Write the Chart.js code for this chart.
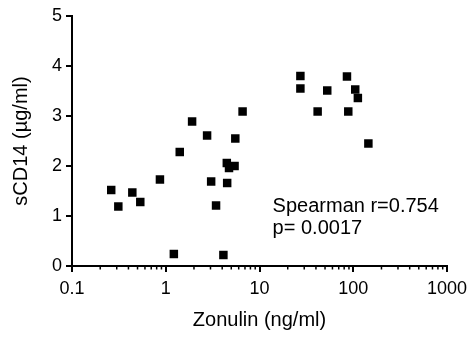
<!DOCTYPE html>
<html>
<head>
<meta charset="utf-8">
<script src="https://cdn.jsdelivr.net/npm/chart.js@4/dist/chart.umd.min.js"></script>
<style>
  html, body { margin: 0; padding: 0; background: #fff; }
  #wrap { width: 468px; height: 338px; position: relative; }
</style>
</head>
<body>
<div id="wrap"><canvas id="c"></canvas></div>
<script>
// ---- Data ----
const zonulin = [0.262, 0.312, 0.44, 0.535, 0.867, 1.22, 1.41, 1.91, 2.76, 3.05, 3.44, 4.12, 4.48, 4.52, 4.73, 5.42, 5.52, 6.6,
                 27.3, 27.3, 41.7, 52.8, 85.7, 88.5, 105, 112, 145];
const sCD14   = [1.52, 1.19, 1.47, 1.28, 1.73, 0.24, 2.28, 2.89, 2.61, 1.69, 1.21, 0.22, 2.06, 1.66, 1.96, 2.00, 2.55, 3.09,
                 3.80, 3.55, 3.09, 3.51, 3.79, 3.09, 3.53, 3.36, 2.45];
const xMajorTicks = [0.1, 1, 10, 100, 1000];
const xTickLabels = ['0.1', '1', '10', '100', '1000'];
const yTicks = [0, 1, 2, 3, 4, 5];
const xTitle = 'Zonulin (ng/ml)';
const yTitle = 'sCD14 (µg/ml)';
const annotationLines = ['Spearman r=0.754', 'p= 0.0017'];
const annotationAnchor = { x: 13.8, y: 1.08 }; // data coords of first baseline start

const FONT = '"Liberation Sans", Arial, Helvetica, sans-serif';
const points = zonulin.map((x, i) => ({ x: x, y: sCD14[i] }));

const tickPlugin = {
  id: 'logTicksAndNote',
  afterDraw(chart) {
    const ctx = chart.ctx;
    const xs = chart.scales.x, ys = chart.scales.y;
    const yAxis = chart.chartArea.bottom;
    ctx.save();
    ctx.strokeStyle = '#000';
    for (let d = 0; d < xMajorTicks.length; d++) {
      const base = xMajorTicks[d];
      const px = Math.round(xs.getPixelForValue(base));
      ctx.lineWidth = 2;
      ctx.beginPath(); ctx.moveTo(px, yAxis); ctx.lineTo(px, yAxis + 6); ctx.stroke();
      if (d < xMajorTicks.length - 1) {
        for (let m = 2; m <= 9; m++) {
          const mx = xs.getPixelForValue(base * m);
          ctx.lineWidth = 1.5;
          ctx.beginPath(); ctx.moveTo(mx, yAxis); ctx.lineTo(mx, yAxis + 3.5); ctx.stroke();
        }
      }
    }
    ctx.fillStyle = '#000';
    ctx.font = '20px ' + FONT;
    ctx.textAlign = 'left';
    ctx.textBaseline = 'alphabetic';
    const ax = xs.getPixelForValue(annotationAnchor.x);
    const ay = ys.getPixelForValue(annotationAnchor.y);
    annotationLines.forEach((t, i) => ctx.fillText(t, ax, ay + i * 21.5));
    ctx.restore();
  }
};

new Chart(document.getElementById('c'), {
  type: 'scatter',
  data: {
    datasets: [{
      data: points,
      pointStyle: 'rect',
      pointRadius: 6,
      pointHoverRadius: 6,
      backgroundColor: '#000',
      borderColor: '#000',
      borderWidth: 0
    }]
  },
  options: {
    responsive: true,
    maintainAspectRatio: false,
    animation: false,
    events: [],
    layout: { padding: { top: 16, right: 21, left: 0, bottom: 0 } },
    plugins: { legend: { display: false }, tooltip: { enabled: false } },
    scales: {
      x: {
        type: 'logarithmic',
        min: 0.1,
        max: 1000,
        afterFit: s => { s.height = 72; s.paddingLeft = 0; s.paddingRight = 0; },
        border: { display: true, color: '#000', width: 2 },
        grid: { display: true, drawOnChartArea: false, drawTicks: true, tickLength: 6, color: 'rgba(0,0,0,0)' },
        ticks: {
          autoSkip: false,
          maxRotation: 0,
          padding: 6,
          color: '#000',
          font: { family: FONT, size: 18 },
          callback: function (v) {
            const i = xMajorTicks.findIndex(t => Math.abs(t - v) / t < 1e-6);
            return i >= 0 ? xTickLabels[i] : '';
          }
        },
        title: { display: true, text: xTitle, color: '#000', font: { family: FONT, size: 20 }, padding: { top: 0, bottom: 6 } }
      },
      y: {
        min: 0,
        max: 5,
        afterFit: s => { s.width = 72; s.paddingTop = 0; s.paddingBottom = 0; },
        afterBuildTicks: s => { s.ticks = yTicks.map(v => ({ value: v })); },
        border: { display: true, color: '#000', width: 2 },
        grid: { display: true, drawOnChartArea: false, drawTicks: true, tickLength: 6, color: '#000', lineWidth: 2 },
        ticks: {
          padding: 4,
          color: '#000',
          font: { family: FONT, size: 18 },
          callback: v => String(v)
        },
        title: { display: true, text: yTitle, color: '#000', font: { family: FONT, size: 20 }, padding: { top: 9, bottom: 0 } }
      }
    }
  },
  plugins: [tickPlugin]
});
</script>
</body>
</html>
